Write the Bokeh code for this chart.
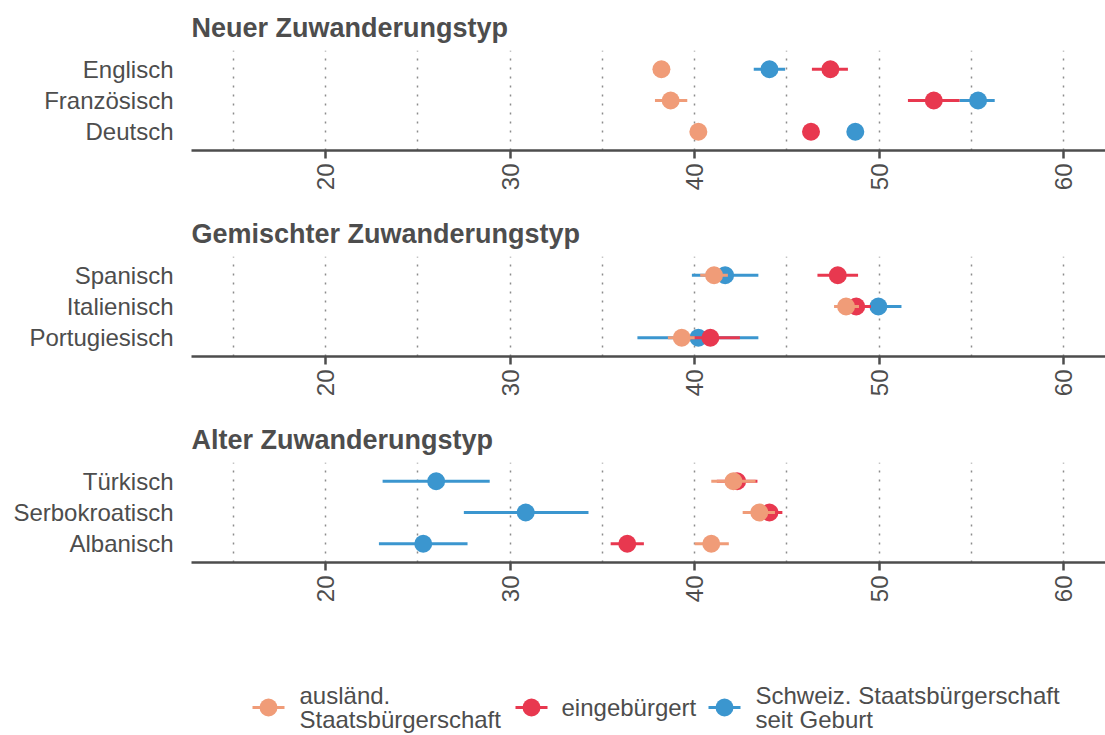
import math
from bokeh.plotting import figure
from bokeh.models import Range1d, FixedTicker
from bokeh.layouts import column
from bokeh.embed import file_html
from bokeh.resources import INLINE
from bokeh.core.properties import value

# ---------------- data ----------------
panel_titles = ["Neuer Zuwanderungstyp", "Gemischter Zuwanderungstyp", "Alter Zuwanderungstyp"]
languages = [
    ["Englisch", "Französisch", "Deutsch"],
    ["Spanisch", "Italienisch", "Portugiesisch"],
    ["Türkisch", "Serbokroatisch", "Albanisch"],
]
series_names = ["ausländ.\nStaatsbürgerschaft", "eingebürgert", "Schweiz. Staatsbürgerschaft\nseit Geburt"]
series_colors = ["#F09C78", "#E8384F", "#3B96CF"]

# values in order of languages (panel by panel, top to bottom)
auslaend_mean = [38.2, 38.7, 40.2, 41.05, 48.2, 39.3, 42.1, 43.5, 40.9]
auslaend_lo = [37.9, 37.85, 39.9, 40.3, 47.55, 38.55, 40.9, 42.6, 40.0]
auslaend_hi = [38.5, 39.6, 40.5, 41.8, 48.9, 40.0, 43.3, 44.35, 41.85]

eingeb_mean = [47.35, 52.95, 46.3, 47.75, 48.75, 40.85, 42.3, 44.05, 36.35]
eingeb_lo = [46.35, 51.55, 46.0, 46.65, 47.95, 39.3, 41.2, 43.35, 35.45]
eingeb_hi = [48.3, 54.35, 46.6, 48.85, 49.55, 42.45, 43.4, 44.75, 37.25]

schweiz_mean = [44.05, 55.35, 48.7, 41.65, 49.95, 40.2, 26.0, 30.85, 25.3]
schweiz_lo = [43.2, 54.35, 48.4, 39.85, 48.7, 36.9, 23.1, 27.5, 22.9]
schweiz_hi = [44.9, 56.25, 49.0, 43.45, 51.2, 43.45, 28.9, 34.25, 27.7]

x_ticks = [20, 30, 40, 50, 60]
grid_ticks = [15, 20, 25, 30, 35, 40, 45, 50, 55, 60]

# ---------------- style ----------------
FONT = "Liberation Sans"
TXT = "#4D4D4D"
FIG_W = 1105
BORDER_L = 191
X0, X1 = 12.75, 62.25

series = [
    (auslaend_mean, auslaend_lo, auslaend_hi, series_colors[0]),
    (eingeb_mean, eingeb_lo, eingeb_hi, series_colors[1]),
    (schweiz_mean, schweiz_lo, schweiz_hi, series_colors[2]),
]
draw_order = [2, 1, 0]


def make_panel(i, height, border_bottom):
    p = figure(width=FIG_W, height=height, output_backend="svg", toolbar_location=None,
               x_range=Range1d(X0, X1), y_range=Range1d(0.4, 3.6),
               min_border_left=BORDER_L, min_border_right=0,
               min_border_top=50, min_border_bottom=border_bottom)
    p.outline_line_color = None
    p.background_fill_color = "white"
    p.border_fill_color = "white"

    p.title.text = panel_titles[i]
    p.title.text_font = FONT
    p.title.text_font_size = "27px"
    p.title.text_font_style = "bold"
    p.title.text_color = TXT
    p.title.align = "left"
    p.title.standoff = 16

    cats = languages[i]
    ypos = [3, 2, 1]
    for s in draw_order:
        mean, lo, hi, col = series[s]
        m = mean[3 * i:3 * i + 3]
        l = lo[3 * i:3 * i + 3]
        h = hi[3 * i:3 * i + 3]
        p.segment(x0=l, y0=ypos, x1=h, y1=ypos, line_color=col, line_width=3)
        p.scatter(x=m, y=ypos, size=18, fill_color=col, line_color=col, line_width=0)

    # x axis
    xa = p.xaxis[0]
    xa.ticker = FixedTicker(ticks=x_ticks)
    xa.minor_tick_line_color = None
    xa.axis_line_color = TXT
    xa.axis_line_width = 2.5
    xa.major_tick_line_color = TXT
    xa.major_tick_line_width = 2.5
    xa.major_tick_out = 8
    xa.major_tick_in = 0
    xa.major_label_orientation = math.pi / 2
    xa.major_label_text_font = FONT
    xa.major_label_text_font_size = "24px"
    xa.major_label_text_color = TXT
    xa.major_label_standoff = 5

    # y axis
    ya = p.yaxis[0]
    ya.ticker = FixedTicker(ticks=ypos)
    ya.major_label_overrides = {ypos[k]: cats[k] for k in range(3)}
    ya.axis_line_color = None
    ya.major_tick_line_color = None
    ya.minor_tick_line_color = None
    ya.major_tick_out = 0
    ya.major_tick_in = 0
    ya.major_label_text_font = FONT
    ya.major_label_text_font_size = "24px"
    ya.major_label_text_color = TXT
    ya.major_label_standoff = 18

    p.ygrid.grid_line_color = None
    p.xgrid.ticker = FixedTicker(ticks=grid_ticks)
    p.xgrid.grid_line_color = "#8c8c8c"
    p.xgrid.grid_line_width = 1.5
    p.xgrid.grid_line_dash = "2 7"
    return p


p1 = make_panel(0, 206, 56)
p2 = make_panel(1, 206, 56)
p3 = make_panel(2, 206, 56)

# ---------------- legend ----------------
LEG_H = 116
lg = figure(width=FIG_W, height=LEG_H, output_backend="svg", toolbar_location=None,
            x_range=Range1d(BORDER_L, FIG_W), y_range=Range1d(LEG_H, 0),
            min_border_left=BORDER_L, min_border_right=0, min_border_top=0, min_border_bottom=0)
lg.axis.visible = False
lg.grid.visible = False
lg.outline_line_color = None

key_x = [268, 531, 724]
text_x = [299, 561, 755]
key_y = 89
line_gap = 24
for k in range(3):
    col = series_colors[k]
    lg.segment(x0=[key_x[k] - 16], y0=[key_y], x1=[key_x[k] + 16], y1=[key_y], line_color=col, line_width=3)
    lg.scatter(x=[key_x[k]], y=[key_y], size=18, fill_color=col, line_color=col, line_width=0)
    lines = series_names[k].split("\n")
    n = len(lines)
    ys = [key_y + (j - (n - 1) / 2) * line_gap for j in range(n)]
    lg.text(x=[text_x[k]] * n, y=ys, text=lines, text_font=value(FONT), text_font_size=value("24px"),
            text_color=TXT, text_baseline="middle", text_align="left")

layout = column(p1, p2, p3, lg, spacing=0)
open("out.html", "w").write(file_html(layout, INLINE))
